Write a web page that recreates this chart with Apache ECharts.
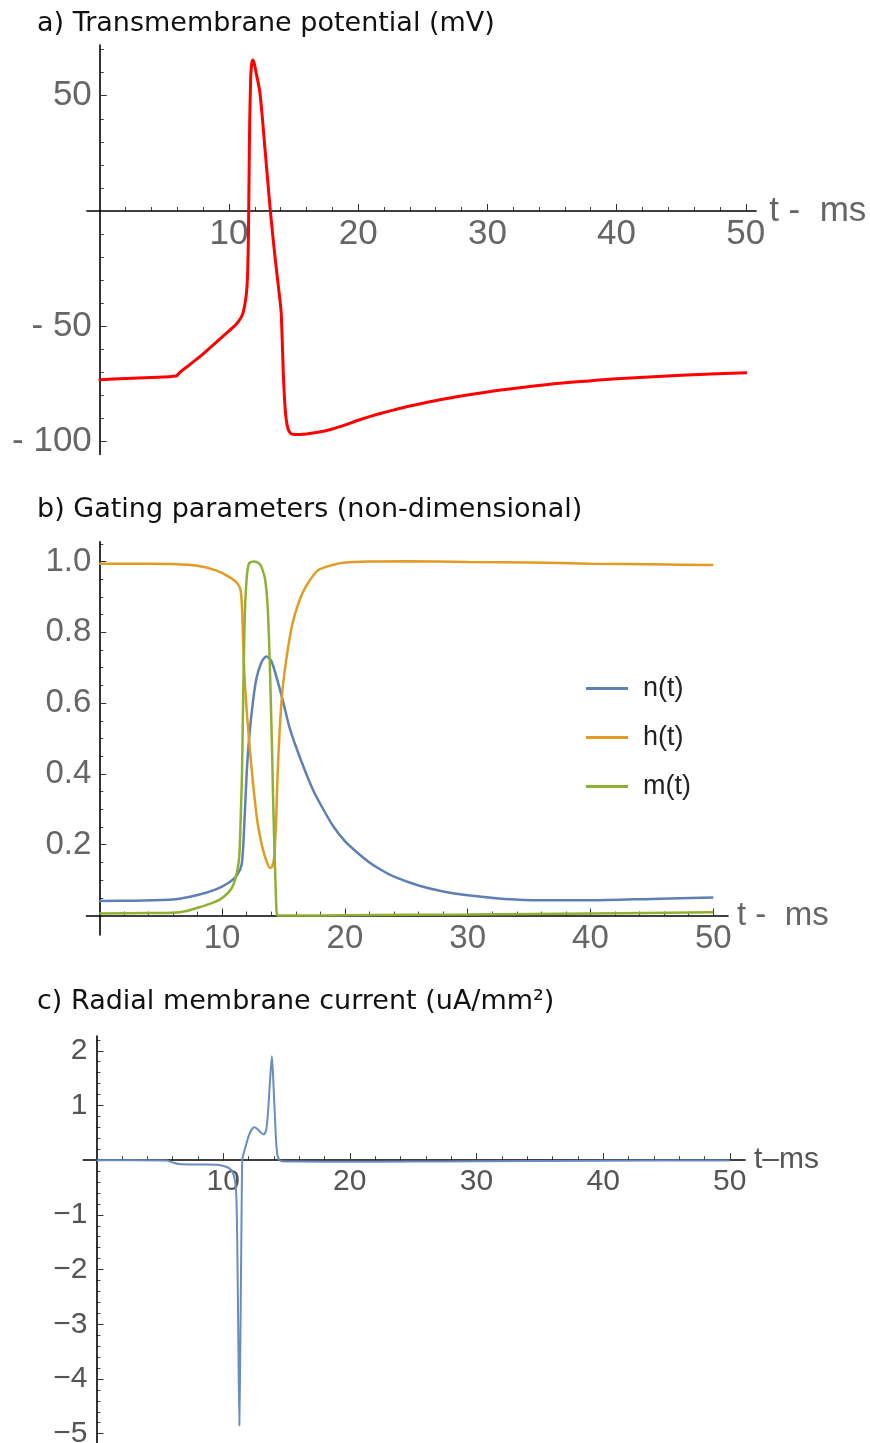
<!DOCTYPE html>
<html><head><meta charset="utf-8">
<script src="https://cdn.jsdelivr.net/npm/echarts@6/dist/echarts.min.js"></script>
<style>html,body{margin:0;padding:0;background:#fff}#c{width:870px;height:1443px}</style>
</head><body><div id="c"></div>
<script>
// ---------- data ----------
// a) transmembrane potential (mV)
const potT = [0,2,4,5.9,6.2,7,8,9,10,10.5,10.9,11.1,11.3,11.4,11.45,11.5,11.55,11.6,11.68,11.76,11.85,11.95,12.1,12.4,12.8,13.2,13.6,13.95,14.05,14.2,14.35,14.5,14.7,15,16,17,18,19,20,21,22,23,24,25,27.5,30,32.5,35,37.5,40,45,50];
const potV = [-73.2,-72.7,-72.2,-71.6,-70,-66.5,-62,-57,-52,-49.5,-46.5,-44,-38,-32,-26,-12,14,38,58,64,65.5,64,60,51,26,0,-22,-39,-45,-70,-86,-93,-96,-97,-96.7,-95.9,-94.6,-92.8,-90.8,-89,-87.4,-86,-84.6,-83.4,-80.7,-78.5,-76.7,-75.1,-73.9,-72.8,-71.3,-70.2];

// b) gating parameters
const nT = [0,3,6,8,9.5,10.5,11.2,11.6,11.8,12.0,12.2,12.5,12.8,13.2,13.6,14.0,14.5,15,15.5,16.3,17.4,18,19,20,21,22,23,24,26,28,30,33,36,40,45,50];
const nV = [0.041,0.042,0.045,0.058,0.074,0.092,0.113,0.145,0.25,0.40,0.50,0.60,0.67,0.715,0.732,0.72,0.665,0.60,0.53,0.45,0.355,0.315,0.255,0.21,0.178,0.15,0.128,0.11,0.085,0.068,0.057,0.047,0.043,0.043,0.047,0.051];
const hT = [0,4,6,8,9.5,10.5,11.2,11.5,11.62,11.72,11.81,12.0,12.2,12.5,12.9,13.3,13.6,13.9,14.1,14.25,14.4,14.52,14.7,14.93,15.3,15.74,16.3,16.83,17.8,19,20,22,25,30,35,40,45,50];
const hV = [0.994,0.994,0.993,0.988,0.975,0.958,0.94,0.92,0.87,0.77,0.686,0.58,0.496,0.38,0.26,0.19,0.155,0.134,0.14,0.167,0.27,0.40,0.53,0.64,0.74,0.826,0.89,0.93,0.975,0.99,0.997,1.0,1.001,0.999,0.997,0.994,0.992,0.99];
const mT = [0,4,6,7,8,9,9.8,10.5,10.9,11.2,11.4,11.52,11.62,11.75,11.85,11.94,12.05,12.21,12.6,13.0,13.2,13.5,13.71,13.85,13.98,14.08,14.17,14.28,14.36,14.44,14.55,16,20,30,40,50];
const mV = [0.006,0.007,0.008,0.012,0.022,0.033,0.045,0.065,0.085,0.12,0.167,0.28,0.40,0.685,0.85,0.92,0.97,0.995,1.0,0.995,0.985,0.95,0.873,0.75,0.59,0.45,0.308,0.17,0.08,0.01,0.0,0.0,0.001,0.003,0.006,0.009];

// c) radial membrane current (uA/mm^2)
const curT = [0,5.5,6,6.5,8,9.5,10.1,10.5,10.75,10.95,11.05,11.12,11.2,11.28,11.36,11.43,11.48,11.52,11.65,11.8,12.0,12.2,12.45,12.7,12.95,13.2,13.4,13.55,13.7,13.85,13.97,14.07,14.17,14.27,14.4,14.6,16,20,25,30,40,50];
const curI = [0,-0.005,-0.04,-0.07,-0.08,-0.085,-0.11,-0.15,-0.22,-0.4,-0.7,-1.6,-3.3,-4.85,-3.3,-1.6,-0.4,0.03,0.15,0.27,0.43,0.54,0.6,0.57,0.51,0.47,0.55,0.9,1.45,1.9,1.4,0.9,0.4,0.12,0.02,-0.02,-0.025,-0.03,-0.025,-0.02,-0.01,-0.005];

// tick labels
const xTickLabels = [10,20,30,40,50];
const aYTickLabels = [-100,-50,50];
const bYTickLabels = [0.2,0.4,0.6,0.8,1.0];
const cYTickLabels = [-5,-4,-3,-2,-1,1,2];

// ---------- helpers ----------
const zip = (t, v) => t.map((x, i) => [x, v[i]]);
function steps(from, to, step) { const r = []; for (let k = 0; from + k * step <= to + 1e-9; k++) r.push(+(from + k * step).toFixed(4)); return r; }
const FONT = 'Liberation Sans, Arial, sans-serif';

const xMinorTicks = steps(2, 50, 2).filter(v => v % 10 !== 0);
const aYMinor = steps(-100, 70, 10).filter(v => v % 50 !== 0);
const bYMinor = steps(0.05, 1.05, 0.05).filter(v => Math.abs(v * 5 - Math.round(v * 5)) > 1e-6);
const cYMinor = steps(-5.2, 2.2, 0.2).filter(v => Math.abs(v - Math.round(v)) > 1e-6);

// panel geometry: grid rect + axis extents; axes are moved onto the zero lines with offsets
function panel(left, top, width, height, xmin, xmax, ymin, ymax) {
  const zeroY = top + (ymax / (ymax - ymin)) * height;
  const zeroX = left + (-xmin / (xmax - xmin)) * width;
  return { grid: { left, top, width, height, containLabel: false, outerBoundsMode: 'none' },
    xmin, xmax, ymin, ymax, xOff: -(top + height - zeroY), yOff: -(zeroX - left) };
}
const PA = panel(86.9, 45, 669.2, 409.4, -1, 50.8, -105.6, 72);
const PB = panel(86.4, 541.7, 641.6, 393.3, -1.05, 51.2, -0.055, 1.056);
const PC = panel(83.3, 1036, 661.7, 408.6, -1.04, 51.2, -5.2, 2.27);

function xMajor(g, P, fs, name, col, margin) {
  return { type: 'value', gridIndex: g, min: P.xmin, max: P.xmax, z: 3, position: 'bottom', offset: P.xOff,
    axisLine: { onZero: false, lineStyle: { color: '#000', width: 1.6 } },
    axisTick: { show: true, inside: true, length: 7, customValues: xTickLabels, lineStyle: { color: '#333', width: 1 } },
    axisLabel: { customValues: xTickLabels, fontSize: fs, color: col, margin, fontFamily: FONT },
    splitLine: { show: false },
    name, nameLocation: 'end', nameGap: 9,
    nameTextStyle: { fontSize: fs, color: col, fontFamily: FONT, verticalAlign: 'middle', padding: [0, 0, 6, 0] } };
}
function yMajor(g, P, fs, labels, fmt, col, margin) {
  return { type: 'value', gridIndex: g, min: P.ymin, max: P.ymax, z: 3, position: 'left', offset: P.yOff,
    axisLine: { onZero: false, lineStyle: { color: '#000', width: 1.6 } },
    axisTick: { show: true, inside: true, length: 7, customValues: labels, lineStyle: { color: '#333', width: 1 } },
    axisLabel: { customValues: labels, fontSize: fs, color: col, margin, fontFamily: FONT, formatter: fmt },
    splitLine: { show: false } };
}
function xMinor(g, P) {
  return { type: 'value', gridIndex: g, min: P.xmin, max: P.xmax, position: 'bottom', offset: P.xOff,
    axisLine: { show: false, onZero: false },
    axisTick: { show: true, inside: true, length: 4, customValues: xMinorTicks, lineStyle: { color: '#444', width: 1 } },
    axisLabel: { show: false }, splitLine: { show: false } };
}
function yMinor(g, P, ticks) {
  return { type: 'value', gridIndex: g, min: P.ymin, max: P.ymax, position: 'left', offset: P.yOff,
    axisLine: { show: false, onZero: false },
    axisTick: { show: true, inside: true, length: 4, customValues: ticks, lineStyle: { color: '#444', width: 1 } },
    axisLabel: { show: false }, splitLine: { show: false } };
}

const fmtA = v => v < 0 ? '- ' + Math.abs(v) : String(v);
const fmtB = v => Number(v).toFixed(1);
const fmtC = v => v < 0 ? '\u2212' + Math.abs(v) : String(v);

const lineBase = { type: 'line', showSymbol: false, symbol: 'none', smooth: 0.25, animation: false };
const titleStyle = { fontFamily: 'DejaVu Sans', fontSize: 27, fontWeight: 'normal', color: '#111' };

const option = {
  animation: false,
  backgroundColor: '#fff',
  title: [
    { text: 'a) Transmembrane potential (mV)', left: 37, top: 10, padding: 0, textStyle: titleStyle },
    { text: 'b) Gating parameters (non-dimensional)', left: 37, top: 496, padding: 0, textStyle: titleStyle },
    { text: 'c) Radial membrane current (uA/mm\u00B2)', left: 37, top: 988, padding: 0, textStyle: titleStyle }
  ],
  grid: [PA.grid, PA.grid, PB.grid, PB.grid, PC.grid, PC.grid],
  xAxis: [
    xMajor(0, PA, 35, 't -  ms', '#666', 6), xMinor(1, PA),
    xMajor(2, PB, 33, 't -  ms', '#666', 7), xMinor(3, PB),
    xMajor(4, PC, 30, 't\u2013ms', '#555', 7), xMinor(5, PC)
  ],
  yAxis: [
    yMajor(0, PA, 35, aYTickLabels, fmtA, '#666', 8), yMinor(1, PA, aYMinor),
    yMajor(2, PB, 33, bYTickLabels, fmtB, '#666', 8), yMinor(3, PB, bYMinor),
    yMajor(4, PC, 30, cYTickLabels, fmtC, '#555', 9), yMinor(5, PC, cYMinor)
  ],
  legend: {
    data: ['n(t)', 'h(t)', 'm(t)'], orient: 'vertical', left: 586, top: 675, padding: 0,
    icon: 'rect', itemWidth: 42, itemHeight: 3, itemGap: 22,
    textStyle: { fontSize: 27, lineHeight: 27, color: '#222', fontFamily: FONT, padding: [0, 0, 0, 10] }
  },
  series: [
    Object.assign({}, lineBase, { name: 'V', xAxisIndex: 0, yAxisIndex: 0, data: zip(potT, potV), lineStyle: { color: '#ff0000', width: 3, cap: 'round', join: 'round' }, itemStyle: { color: '#ff0000' } }),
    Object.assign({}, lineBase, { name: 'n(t)', xAxisIndex: 2, yAxisIndex: 2, data: zip(nT, nV), lineStyle: { color: '#5e81b5', width: 2.5 }, itemStyle: { color: '#5e81b5' } }),
    Object.assign({}, lineBase, { name: 'h(t)', xAxisIndex: 2, yAxisIndex: 2, data: zip(hT, hV), lineStyle: { color: '#e19c24', width: 2.5 }, itemStyle: { color: '#e19c24' } }),
    Object.assign({}, lineBase, { name: 'm(t)', xAxisIndex: 2, yAxisIndex: 2, data: zip(mT, mV), lineStyle: { color: '#8fb032', width: 2.5 }, itemStyle: { color: '#8fb032' } }),
    Object.assign({}, lineBase, { name: 'I', xAxisIndex: 4, yAxisIndex: 4, data: zip(curT, curI), lineStyle: { color: '#6a8cc2', width: 2 }, itemStyle: { color: '#6a8cc2' } })
  ]
};
const chart = echarts.init(document.getElementById('c'), null, { renderer: 'canvas' });
chart.setOption(option);
</script>
</body></html>
